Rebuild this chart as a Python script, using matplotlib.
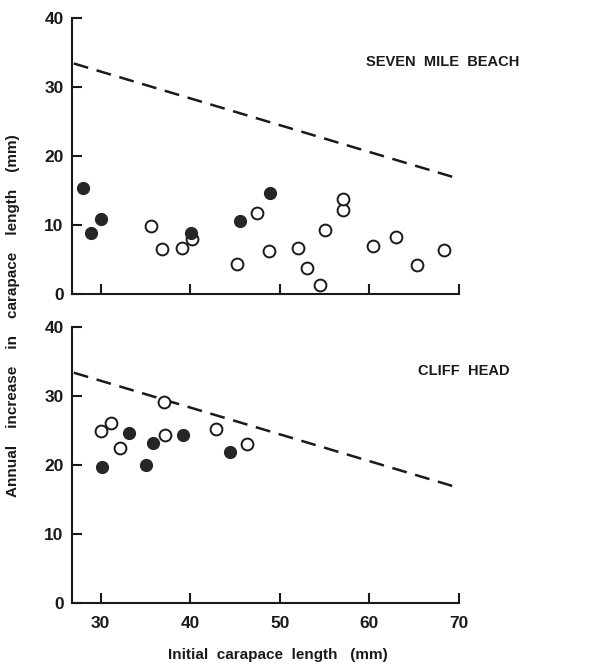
import matplotlib
matplotlib.use("Agg")
import matplotlib.pyplot as plt
import numpy as np

plt.rcParams['font.family'] = ['Liberation Sans', 'DejaVu Sans']

# Seven Mile Beach
smb_filled_x = [28.0, 28.9, 30.0, 40.1, 45.6, 48.9]
smb_filled_y = [15.4, 8.9, 10.8, 8.9, 10.6, 14.7]
smb_open_x = [35.6, 36.9, 39.1, 40.2, 45.2, 47.5, 48.8, 52.1, 53.0, 54.5,
              55.1, 57.1, 57.1, 60.4, 63.0, 65.3, 68.3]
smb_open_y = [9.8, 6.5, 6.7, 7.9, 4.3, 11.7, 6.2, 6.6, 3.8, 1.3,
              9.2, 12.1, 13.7, 6.9, 8.3, 4.2, 6.4]

# Cliff Head
ch_filled_x = [30.2, 33.2, 35.1, 35.9, 39.2, 44.4]
ch_filled_y = [19.7, 24.6, 20.0, 23.2, 24.3, 21.9]
ch_open_x = [30.0, 31.2, 32.2, 37.1, 37.2, 42.9, 46.4]
ch_open_y = [25.0, 26.1, 22.5, 29.1, 24.3, 25.3, 23.0]

# Dashed reference line (end points)
line_x = [27.0, 70.0]
line_y = [33.4, 16.7]

x_ticks = [30, 40, 50, 60, 70]
y_ticks = [0, 10, 20, 30, 40]

panel_titles = ["SEVEN  MILE  BEACH", "CLIFF  HEAD"]

fig = plt.figure(figsize=(6.06, 6.65), dpi=100)
ax_top = fig.add_axes([0.1188, 0.558, 0.757 - 0.1188, 0.973 - 0.558])
ax_bot = fig.add_axes([0.1188, 0.0932, 0.757 - 0.1188, 0.508 - 0.0932])

panels = [
    (ax_top, smb_filled_x, smb_filled_y, smb_open_x, smb_open_y),
    (ax_bot, ch_filled_x, ch_filled_y, ch_open_x, ch_open_y),
]
title_x = [1.158, 1.132]

for i, (ax, fx, fy, ox, oy) in enumerate(panels):
    ax.plot(line_x, line_y, color='#1a1a1a', lw=1.8, dashes=(6, 3.5), zorder=2)
    ax.plot(ox, oy, 'o', ms=8.5, mfc='white', mec='#1a1a1a', mew=1.4,
            ls='none', zorder=3)
    ax.plot(fx, fy, 'o', ms=8.5, mfc='#262626', mec='#262626', mew=1.0,
            ls='none', zorder=3)
    ax.set_xlim(26.8, 70)
    ax.set_ylim(0, 40)
    ax.set_xticks(x_ticks)
    ax.set_yticks(y_ticks)
    for s in ['top', 'right']:
        ax.spines[s].set_visible(False)
    for s in ['left', 'bottom']:
        ax.spines[s].set_linewidth(1.5)
        ax.spines[s].set_color('#1a1a1a')
    ax.tick_params(direction='in', length=7, width=1.5, colors='#1a1a1a',
                   labelsize=12.5, pad=6)
    for lab in ax.get_yticklabels() + ax.get_xticklabels():
        lab.set_fontweight('bold')
    ax.text(title_x[i], 0.84, panel_titles[i],
            transform=ax.transAxes, ha='right', va='center',
            fontsize=10.5, fontweight='bold', color='#1a1a1a')

ax_top.tick_params(axis='x', labelbottom=False)
ax_bot.tick_params(axis='x', pad=9)

fig.text(278 / 606, 1 - 655 / 665,
         "Initial  carapace  length   (mm)", ha='center', va='center',
         fontsize=11, fontweight='bold', color='#1a1a1a')
fig.text(13 / 606, 1 - 316 / 665,
         "Annual    increase    in    carapace    length    (mm)",
         rotation=90, ha='center', va='center',
         fontsize=11, fontweight='bold', color='#1a1a1a')

fig.savefig("out.png", dpi=100, facecolor='white')
